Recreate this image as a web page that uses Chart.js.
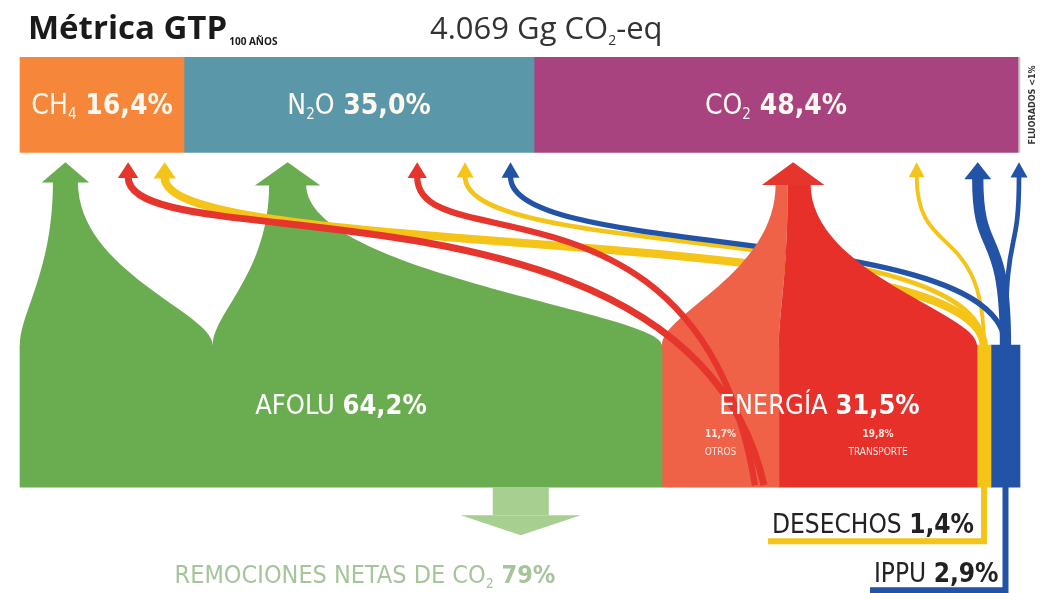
<!DOCTYPE html>
<html>
<head>
<meta charset="utf-8">
<script src="https://cdn.jsdelivr.net/npm/chart.js@4.4.1/dist/chart.umd.min.js"></script>
<style>
  html, body { margin: 0; padding: 0; background: #fff; }
  #wrap { width: 1045px; height: 593px; }
</style>
</head>
<body>
<div id="wrap"><canvas id="chart" width="1045" height="593"></canvas></div>
<script>
// --- Data ---
const gasLabels = ['CH4', 'N2O', 'CO2', 'FLUORADOS'];
const gasValues = [16.4, 35.0, 48.4, 0.2];
const sectorLabels = ['AFOLU', 'OTROS', 'TRANSPORTE', 'DESECHOS', 'IPPU'];
const sectorValues = [64.2, 11.7, 19.8, 1.4, 2.9];
const sectorGroups = ['AFOLU', 'ENERGÍA', 'ENERGÍA', 'DESECHOS', 'IPPU'];
// flows sector -> gas (% of total)
const flowFrom = ['AFOLU', 'AFOLU', 'OTROS', 'OTROS', 'OTROS', 'TRANSPORTE', 'DESECHOS', 'DESECHOS', 'DESECHOS', 'IPPU', 'IPPU', 'IPPU'];
const flowTo = ['CH4', 'N2O', 'CH4', 'N2O', 'CO2', 'CO2', 'CH4', 'N2O', 'CO2', 'N2O', 'CO2', 'FLUORADOS'];
const flowValues = [14.6, 34.0, 0.7, 0.5, 10.5, 19.8, 1.1, 0.2, 0.1, 0.3, 2.4, 0.2];
const totalGg = '4.069';
const removalPct = 79;

// --- Styles ---
const gasColors = ['#f6873a', '#5a97a9', '#a9437f', '#c8c8c8'];
const sectorColors = ['#69ad50', '#ef6248', '#e8302b', '#f5c419', '#2253a7'];
const groupColors = { 'AFOLU': '#69ad50', 'ENERGÍA': '#e5352d', 'DESECHOS': '#f5c419', 'IPPU': '#2253a7' };
const groupOrder = ['AFOLU', 'ENERGÍA', 'DESECHOS', 'IPPU'];
const NARROW = '"Liberation Sans Narrow", "DejaVu Sans Condensed", sans-serif';
const SANS = '"Open Sans", "Noto Sans", sans-serif';

const fmt = v => v.toFixed(1).replace('.', ',') + '%';

function formulaParts(name, size, weight) {
    const parts = [];
    name.split(/(\d+)/).forEach((s, i) => {
        if (!s) return;
        if (i % 2) parts.push({ t: s, font: `${weight} ${Math.round(size * 0.55)}px ${NARROW}`, dy: size * 0.2 });
        else parts.push({ t: s, font: `${weight} ${size}px ${NARROW}` });
    });
    return parts;
}
function drawRich(ctx, parts, x, y, align, color) {
    let w = 0;
    parts.forEach(p => { ctx.font = p.font; w += ctx.measureText(p.t).width; });
    let cx = align === 'center' ? x - w / 2 : align === 'right' ? x - w : x;
    ctx.textAlign = 'left'; ctx.textBaseline = 'alphabetic'; ctx.fillStyle = color;
    parts.forEach(p => { ctx.font = p.font; ctx.fillText(p.t, cx, y + (p.dy || 0)); cx += ctx.measureText(p.t).width; });
    return cx - w;
}

// --- Flows plugin: ribbons, arrows and labels drawn over the two stacked bars ---
const sankeyPlugin = {
    id: 'sankey',
    afterDatasetsDraw(chart) {
        const ctx = chart.ctx;
        const nG = gasLabels.length;
        const box = b => ({ x0: Math.min(b.base, b.x), x1: Math.max(b.base, b.x), top: b.y - b.height / 2, bottom: b.y + b.height / 2, cy: b.y, cx: (b.base + b.x) / 2 });
        const gas = gasLabels.map((g, i) => box(chart.getDatasetMeta(i).data[0]));
        const sec = sectorLabels.map((s, i) => box(chart.getDatasetMeta(nG + i).data[2]));

        // group flows into arrows (one per sector group and gas)
        const arrows = [], arrowOf = [];
        flowValues.forEach((v, k) => {
            const grp = sectorGroups[sectorLabels.indexOf(flowFrom[k])];
            const g = gasLabels.indexOf(flowTo[k]);
            let a = arrows.find(a => a.grp === grp && a.g === g);
            if (!a) { a = { grp, g, value: 0, flows: [] }; arrows.push(a); }
            a.value += v; a.flows.push(k); arrowOf[k] = a;
        });
        // arrow positions under each gas
        gasLabels.forEach((gl, g) => {
            const list = arrows.filter(a => a.g === g).sort((a, b) => groupOrder.indexOf(a.grp) - groupOrder.indexOf(b.grp));
            const rem = gasValues[g] - list.reduce((s, a) => s + a.value, 0);
            const slots = (rem > 0.05 ? [{ value: rem }] : []).concat(list);
            const W = slots.reduce((s, a) => s + Math.sqrt(a.value) + 1, 0);
            let cum = 0;
            slots.forEach(a => {
                const w = Math.sqrt(a.value) + 1;
                a.tx = gas[g].x0 + (cum + w / 2) / W * (gas[g].x1 - gas[g].x0);
                cum += w;
            });
        });
        arrows.forEach(a => {
            a.neck = 2 + 6 * Math.sqrt(a.value);
            a.headW = 1.5 * a.neck + 10;
            a.headH = 14 + 0.25 * a.neck;
            a.tip = gas[a.g].bottom + 10;
            a.yn = a.tip + a.headH;
        });

        const isSpire = k => flowValues[k] >= 5;
        const bottomSlice = [], neckSlice = [];
        sectorLabels.forEach((s, si) => {
            const ks = flowValues.map((v, k) => k).filter(k => flowFrom[k] === s && isSpire(k))
                .sort((a, b) => gasLabels.indexOf(flowTo[a]) - gasLabels.indexOf(flowTo[b]));
            const tot = ks.reduce((t, k) => t + flowValues[k], 0);
            let c = sec[si].x0;
            ks.forEach(k => { const w = flowValues[k] / tot * (sec[si].x1 - sec[si].x0); bottomSlice[k] = [c, c + w]; c += w; });
        });
        arrows.forEach(a => {
            const ks = a.flows.filter(isSpire);
            const tot = ks.reduce((t, k) => t + flowValues[k], 0);
            let c = a.tx - a.neck / 2;
            ks.forEach(k => { const w = flowValues[k] / tot * a.neck; neckSlice[k] = [c, c + w]; c += w; });
        });

        const drawSpire = k => {
            const si = sectorLabels.indexOf(flowFrom[k]), a = arrowOf[k];
            const [sx0, sx1] = bottomSlice[k], [nx0, nx1] = neckSlice[k];
            const yb = sec[si].top, h = yb - a.yn;
            ctx.beginPath();
            ctx.moveTo(sx0, yb + 2);
            ctx.lineTo(sx0, yb);
            ctx.bezierCurveTo(sx0, yb - 0.2 * h, nx0, a.yn + 0.55 * h, nx0, a.yn - 1);
            ctx.lineTo(nx1, a.yn - 1);
            ctx.bezierCurveTo(nx1, a.yn + 0.55 * h, sx1, yb - 0.2 * h, sx1, yb);
            ctx.lineTo(sx1, yb + 2);
            ctx.closePath();
            ctx.fillStyle = sectorColors[si];
            ctx.fill();
        };
        // thin ribbons: trunk sectors rise from their centre, block sectors cut across the block diagonally
        let thinIdx = {};
        const drawThin = k => {
            const si = sectorLabels.indexOf(flowFrom[k]), a = arrowOf[k], s = sec[si];
            const h = s.top - a.yn;
            let sx, sy, c1x, c1y;
            if (s.x1 - s.x0 > 60) {
                const n = thinIdx[si] = (thinIdx[si] || 0) + 1;
                sx = s.x1 - 6 - n * 9; sy = s.bottom - 2;
                c1x = s.x0 + 20 + 10 * n; c1y = s.top - 1.1 * h;
            } else {
                sx = s.cx; sy = s.top + 2;
                c1x = sx; c1y = sy - 0.75 * h;
            }
            ctx.beginPath();
            ctx.moveTo(sx, sy);
            ctx.bezierCurveTo(c1x, c1y, a.tx, a.yn + 0.5 * h, a.tx, a.yn - 1);
            ctx.lineWidth = 2 + 6 * Math.sqrt(flowValues[k]);
            ctx.strokeStyle = groupColors[a.grp];
            ctx.lineCap = 'butt';
            ctx.stroke();
        };
        const ks = flowValues.map((v, k) => k);
        const grpOf = k => sectorGroups[sectorLabels.indexOf(flowFrom[k])];
        ks.filter(k => isSpire(k) && grpOf(k) !== 'ENERGÍA').forEach(drawSpire);
        ks.filter(k => !isSpire(k) && grpOf(k) !== 'ENERGÍA').forEach(drawThin);
        ks.filter(k => isSpire(k) && grpOf(k) === 'ENERGÍA').forEach(drawSpire);
        ks.filter(k => !isSpire(k) && grpOf(k) === 'ENERGÍA').forEach(drawThin);
        arrows.forEach(a => {
            ctx.beginPath();
            ctx.moveTo(a.tx - a.headW / 2, a.yn);
            ctx.lineTo(a.tx, a.tip);
            ctx.lineTo(a.tx + a.headW / 2, a.yn);
            ctx.closePath();
            ctx.fillStyle = groupColors[a.grp];
            ctx.fill();
        });

        // gas labels
        gasLabels.forEach((g, i) => {
            if (g === 'FLUORADOS') {
                ctx.save();
                ctx.translate(gas[i].x1 + 13, gas[i].cy);
                ctx.rotate(-Math.PI / 2);
                ctx.font = `bold 9px ${NARROW}`;
                ctx.textAlign = 'center'; ctx.textBaseline = 'middle'; ctx.fillStyle = '#333';
                ctx.fillText(g + ' ' + (gasValues[i] < 1 ? '<1%' : fmt(gasValues[i])), 0, 0);
                ctx.restore();
                return;
            }
            const parts = formulaParts(g, 28, 'normal').concat([{ t: ' ' + fmt(gasValues[i]), font: `bold 28px ${NARROW}` }]);
            drawRich(ctx, parts, gas[i].cx, gas[i].cy + 9, 'center', '#fff8ee');
        });

        // sector group labels
        const groupsDone = {};
        sectorLabels.forEach((s, i) => {
            const grp = sectorGroups[i];
            if (grp === 'DESECHOS' || grp === 'IPPU' || groupsDone[grp]) return;
            groupsDone[grp] = true;
            const idx = sectorGroups.map((g, j) => j).filter(j => sectorGroups[j] === grp);
            const x0 = sec[idx[0]].x0, x1 = sec[idx[idx.length - 1]].x1;
            const tot = idx.reduce((t, j) => t + sectorValues[j], 0);
            drawRich(ctx, [{ t: grp + ' ', font: `normal 27px ${NARROW}` }, { t: fmt(tot), font: `bold 27px ${NARROW}` }],
                (x0 + x1) / 2, sec[i].cy - 2, 'center', '#ffffff');
            if (idx.length > 1) {
                idx.forEach(j => {
                    ctx.textAlign = 'center'; ctx.fillStyle = '#fde7df';
                    ctx.font = `bold 10px ${NARROW}`;
                    ctx.fillText(fmt(sectorValues[j]), sec[j].cx, sec[j].cy + 21);
                    ctx.font = `normal 10px ${NARROW}`;
                    ctx.fillText(sectorLabels[j], sec[j].cx, sec[j].cy + 39);
                });
            }
        });

        // desechos / ippu leaders
        [['DESECHOS', 46, 10], ['IPPU', 95, 7]].forEach(([name, dy, gap]) => {
            const i = sectorLabels.indexOf(name);
            const s = sec[i];
            const left = drawRich(ctx, [{ t: name + ' ', font: `normal 26px ${NARROW}` }, { t: fmt(sectorValues[i]), font: `bold 26px ${NARROW}` }],
                s.cx - gap, s.bottom + dy, 'right', '#222');
            ctx.beginPath();
            ctx.moveTo(s.cx, s.bottom - 1);
            ctx.lineTo(s.cx, s.bottom + dy + 8);
            ctx.lineTo(left - 4, s.bottom + dy + 8);
            ctx.lineWidth = 6; ctx.lineCap = 'butt'; ctx.lineJoin = 'miter';
            ctx.strokeStyle = sectorColors[i];
            ctx.stroke();
        });

        // net removals arrow under AFOLU
        const af = sec[0];
        const rx = af.x0 + 0.78 * (af.x1 - af.x0);
        ctx.fillStyle = '#a7cf90';
        ctx.fillRect(rx - 28, af.bottom, 56, 28);
        ctx.beginPath();
        ctx.moveTo(rx - 60, af.bottom + 28);
        ctx.lineTo(rx + 60, af.bottom + 28);
        ctx.lineTo(rx, af.bottom + 48);
        ctx.closePath();
        ctx.fill();
        drawRich(ctx, formulaParts('REMOCIONES NETAS DE CO2', 25, 'normal').concat([{ t: ' ' + removalPct + '%', font: `bold 25px ${NARROW}` }]),
            af.cx + 24, af.bottom + 96, 'center', '#a6c59a');

        // title
        ctx.textAlign = 'left'; ctx.textBaseline = 'alphabetic';
        ctx.fillStyle = '#1a1a1a';
        ctx.font = `bold 33px ${SANS}`;
        ctx.fillText('Métrica GTP', 28, 39);
        const tw = ctx.measureText('Métrica GTP').width;
        ctx.font = `bold 10px ${SANS}`;
        ctx.fillText('100 AÑOS', 28 + tw + 2, 45);
        drawRich(ctx, [{ t: totalGg + ' Gg CO', font: `normal 31px ${SANS}` }, { t: '2', font: `normal 14px ${SANS}`, dy: 6 }, { t: '-eq', font: `normal 31px ${SANS}` }],
            430, 39, 'left', '#333');
    }
};

// --- Chart ---
const datasets = [];
gasLabels.forEach((g, i) => datasets.push({
    label: g, data: [gasValues[i], null, null], backgroundColor: gasColors[i], barThickness: 95, clip: false
}));
sectorLabels.forEach((s, i) => datasets.push({
    label: s, data: [null, null, sectorValues[i]], backgroundColor: sectorColors[i], barThickness: 142, clip: false
}));

new Chart(document.getElementById('chart'), {
    type: 'bar',
    data: { labels: ['gases', '', 'sectores'], datasets: datasets },
    options: {
        indexAxis: 'y',
        responsive: false,
        animation: false,
        layout: { padding: { left: 20, right: 25, top: 27, bottom: 99 } },
        plugins: { legend: { display: false }, tooltip: { enabled: false } },
        scales: {
            x: { type: 'linear', min: 0, max: 100, stacked: true, display: false },
            y: { stacked: true, display: false, offset: true }
        }
    },
    plugins: [sankeyPlugin]
});
</script>
</body>
</html>
